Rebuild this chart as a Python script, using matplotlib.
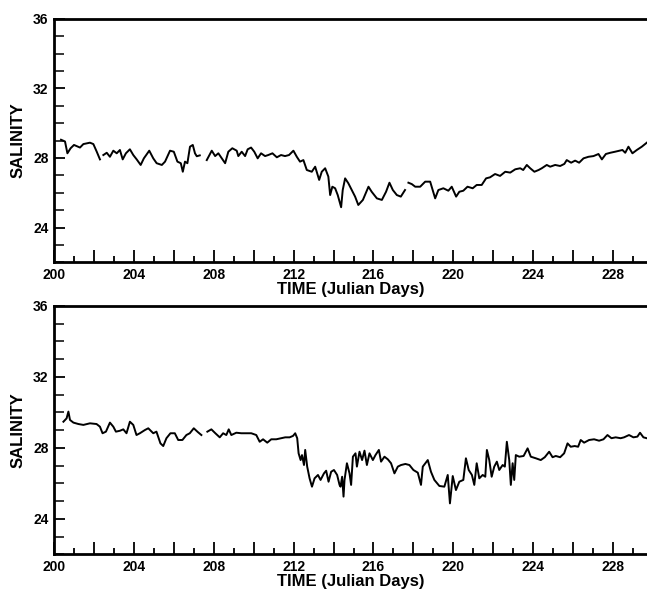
import numpy as np
import matplotlib
matplotlib.use('Agg')
import matplotlib.pyplot as plt
from matplotlib.ticker import MultipleLocator, FuncFormatter

# salinity traces (nan = gap in record)
top_day = [200.35, 200.45, 200.55, 200.67, 200.83, 201.0, 201.3, 201.47, 201.8, 201.97,
           202.14, 202.3, np.nan, 202.47, 202.64, 202.8, 202.97, 203.14, 203.3, 203.44,
           203.6, 203.8, 203.97, 204.14, 204.34, 204.5, 204.77, 204.97, 205.14, 205.4,
           205.56, 205.81, 206.0, 206.18, 206.35, 206.45, 206.56, 206.68, 206.81, 206.95,
           207.06, 207.15, 207.3, np.nan, 207.65, 207.9, 208.07, 208.23, 208.4, 208.57,
           208.73, 208.93, 209.15, 209.23, 209.4, 209.57, 209.7, 209.87, 210.03, 210.2,
           210.37, 210.57, 210.73, 210.94, 211.16, 211.37, 211.57, 211.77, 211.99, 212.16,
           212.32, 212.49, 212.66, 212.91, 213.08, 213.28, 213.41, 213.58, 213.74, 213.83,
           213.94, 214.08, 214.21, 214.38, 214.46, 214.58, 214.74, 214.91, 215.08, 215.24,
           215.47, 215.75, 215.91, 216.17, 216.42, 216.63, 216.8, 216.97, 217.17, 217.37,
           217.58, np.nan, 217.75, 217.92, 218.09, 218.34, 218.59, 218.84, 219.09, 219.25,
           219.5, 219.75, 219.92, 220.14, 220.3, 220.5, 220.71, 220.97, 221.17, 221.42,
           221.64, 221.84, 222.09, 222.34, 222.6, 222.85, 223.1, 223.35, 223.5, 223.68,
           223.85, 224.06, 224.27, 224.43, 224.68, 224.85, 225.1, 225.35, 225.56, 225.68,
           225.9, 226.1, 226.3, 226.52, 226.77, 227.02, 227.27, 227.44, 227.64, 227.86,
           228.1, 228.31, 228.47, 228.61, 228.77, 228.97, 229.19, 229.44, 229.69]
top_sal = [29.05, 29.0, 28.95, 28.27, 28.56, 28.75, 28.6, 28.8, 28.88, 28.8,
           28.36, 27.92, np.nan, 28.17, 28.3, 28.07, 28.42, 28.27, 28.46, 27.92,
           28.27, 28.5, 28.17, 27.92, 27.6, 27.98, 28.42, 27.98, 27.7, 27.6,
           27.79, 28.42, 28.36, 27.79, 27.7, 27.21, 27.79, 27.7, 28.65, 28.75,
           28.27, 28.1, 28.15, np.nan, 27.88, 28.42, 28.11, 28.27, 27.98, 27.7,
           28.36, 28.56, 28.42, 28.11, 28.36, 28.11, 28.5, 28.6, 28.36, 27.98,
           28.27, 28.11, 28.17, 28.27, 28.04, 28.17, 28.11, 28.17, 28.42, 28.07,
           27.79, 27.88, 27.31, 27.21, 27.5, 26.74, 27.21, 27.41, 26.93, 25.87,
           26.35, 26.26, 25.87, 25.17, 26.16, 26.83, 26.55, 26.16, 25.78, 25.3,
           25.59, 26.35, 26.06, 25.68, 25.59, 26.06, 26.58, 26.16, 25.87, 25.78,
           26.16, np.nan, 26.58, 26.5, 26.35, 26.35, 26.64, 26.64, 25.68, 26.16,
           26.26, 26.12, 26.35, 25.78, 26.06, 26.12, 26.35, 26.26, 26.45, 26.45,
           26.83, 26.89, 27.08, 26.97, 27.21, 27.16, 27.35, 27.41, 27.31, 27.6,
           27.41, 27.21, 27.31, 27.41, 27.6, 27.5, 27.6, 27.54, 27.66, 27.88,
           27.73, 27.85, 27.73, 27.98, 28.07, 28.11, 28.23, 27.92, 28.23, 28.3,
           28.36, 28.42, 28.46, 28.3, 28.65, 28.27, 28.46, 28.65, 28.88]

bot_day = [200.47, 200.63, 200.72, 200.8, 200.97, 201.22, 201.47, 201.8, 202.13, 202.3,
           202.43, 202.6, 202.8, 202.97, 203.1, 203.3, 203.47, 203.63, 203.8, 203.97,
           204.13, 204.3, 204.55, 204.72, 204.97, 205.13, 205.33, 205.47, 205.63, 205.83,
           206.05, 206.22, 206.43, 206.63, 206.8, 207.0, 207.2, 207.38, np.nan, 207.68,
           207.88, 208.08, 208.3, 208.47, 208.63, 208.75, 208.88, 209.13, 209.38, 209.63,
           209.88, 210.13, 210.3, 210.47, 210.68, 210.88, 211.13, 211.38, 211.58, 211.8,
           211.97, 212.08, 212.18, 212.25, 212.35, 212.42, 212.52, 212.58, 212.68, 212.8,
           212.92, 213.05, 213.22, 213.35, 213.52, 213.63, 213.75, 213.88, 214.02, 214.18,
           214.3, 214.35, 214.43, 214.5, 214.55, 214.67, 214.8, 214.88, 214.97, 215.1,
           215.17, 215.3, 215.43, 215.55, 215.67, 215.8, 215.97, 216.1, 216.27, 216.38,
           216.55, 216.72, 216.88, 217.05, 217.22, 217.38, 217.6, 217.8, 218.0, 218.22,
           218.38, 218.47, 218.72, 218.88, 219.05, 219.3, 219.55, 219.72, 219.83, 219.97,
           220.13, 220.3, 220.5, 220.63, 220.77, 220.93, 221.05, 221.17, 221.3, 221.47,
           221.6, 221.68, 221.8, 221.92, 222.05, 222.18, 222.3, 222.47, 222.58, 222.68,
           222.8, 222.88, 222.97, 223.05, 223.13, 223.3, 223.52, 223.72, 223.88, 224.13,
           224.38, 224.58, 224.8, 224.97, 225.13, 225.35, 225.55, 225.72, 225.88, 226.08,
           226.25, 226.38, 226.55, 226.8, 227.05, 227.3, 227.52, 227.72, 227.92, 228.13,
           228.38, 228.55, 228.8, 229.02, 229.22, 229.35, 229.52, 229.69]
bot_sal = [29.48, 29.67, 30.05, 29.58, 29.43, 29.35, 29.3, 29.39, 29.35, 29.2,
           28.83, 28.92, 29.43, 29.2, 28.92, 28.97, 29.05, 28.83, 29.48, 29.3,
           28.73, 28.83, 29.01, 29.11, 28.83, 28.92, 28.26, 28.11, 28.55, 28.83,
           28.83, 28.45, 28.45, 28.73, 28.83, 29.11, 28.9, 28.73, np.nan, 28.92,
           29.05, 28.83, 28.6, 28.83, 28.73, 29.05, 28.73, 28.86, 28.83, 28.83,
           28.83, 28.73, 28.35, 28.49, 28.3, 28.49, 28.49, 28.55, 28.6, 28.6,
           28.68, 28.83, 28.55, 27.7, 27.32, 27.6, 27.04, 27.89, 26.95, 26.29,
           25.82, 26.29, 26.48, 26.2, 26.57, 26.72, 26.1, 26.66, 26.76, 26.48,
           25.92, 25.82, 26.38, 25.26, 26.2, 27.14, 26.57, 25.92, 27.51, 27.7,
           26.95, 27.79, 27.32, 27.85, 27.04, 27.7, 27.32, 27.6, 27.89, 27.23,
           27.51, 27.36, 27.14, 26.57, 26.95, 27.04, 27.1, 27.04, 26.76, 26.61,
           25.92, 26.95, 27.32, 26.66, 26.2, 25.86, 25.82, 26.48, 24.88, 26.42,
           25.63, 26.1, 26.2, 27.42, 26.76, 26.48, 25.92, 27.14, 26.29, 26.48,
           26.38, 27.89, 27.32, 26.38, 26.95, 27.23, 26.76, 27.04, 26.95, 28.35,
           27.32, 25.92, 27.14, 26.2, 27.6, 27.51, 27.55, 27.98, 27.51, 27.42,
           27.32, 27.48, 27.79, 27.48, 27.55, 27.48, 27.7, 28.26, 28.07, 28.11,
           28.07, 28.45, 28.3, 28.45, 28.49, 28.41, 28.49, 28.73, 28.55, 28.6,
           28.55, 28.6, 28.73, 28.6, 28.64, 28.86, 28.6, 28.55]

fnt = 'Liberation Sans'

fig = plt.figure(figsize=(6.47, 5.89), dpi=100)
ax1 = fig.add_axes([0.0835, 0.5545, 0.9165, 0.4136])
ax2 = fig.add_axes([0.0835, 0.0586, 0.9165, 0.4219])

for ax, d, s in [(ax1, top_day, top_sal), (ax2, bot_day, bot_sal)]:
    ax.plot(d, s, color='black', lw=1.4)
    ax.set_xlim(200, 229.7)
    ax.set_ylim(22, 36)
    ax.spines['right'].set_visible(False)
    for side in ['left', 'top', 'bottom']:
        ax.spines[side].set_linewidth(2.0)
    ax.xaxis.set_major_locator(MultipleLocator(2))
    ax.xaxis.set_minor_locator(MultipleLocator(1))
    ax.xaxis.set_major_formatter(FuncFormatter(lambda v, p: '%d' % v if int(round(v)) % 4 == 0 else ''))
    ax.yaxis.set_major_locator(MultipleLocator(4))
    ax.yaxis.set_minor_locator(MultipleLocator(1))
    ax.tick_params(axis='x', which='major', direction='in', length=9, width=1.3, pad=4,
                   top=False, labelsize=10)
    ax.tick_params(axis='x', which='minor', direction='in', length=4.5, width=1.3, top=False)
    ax.tick_params(axis='y', which='major', direction='in', length=8, width=1.3, pad=4,
                   right=False, labelsize=10)
    ax.tick_params(axis='y', which='minor', direction='in', length=7, width=1.1, right=False)
    for lab in ax.get_xticklabels() + ax.get_yticklabels():
        lab.set_fontfamily(fnt)
        lab.set_fontweight('bold')
    ax.set_xlabel('TIME (Julian Days)', fontsize=12, fontweight='bold', fontfamily=fnt, labelpad=0)
    ax.set_ylabel('SALINITY', fontsize=12, fontweight='bold', fontfamily=fnt, labelpad=5)

fig.savefig('out.png', dpi=100)
